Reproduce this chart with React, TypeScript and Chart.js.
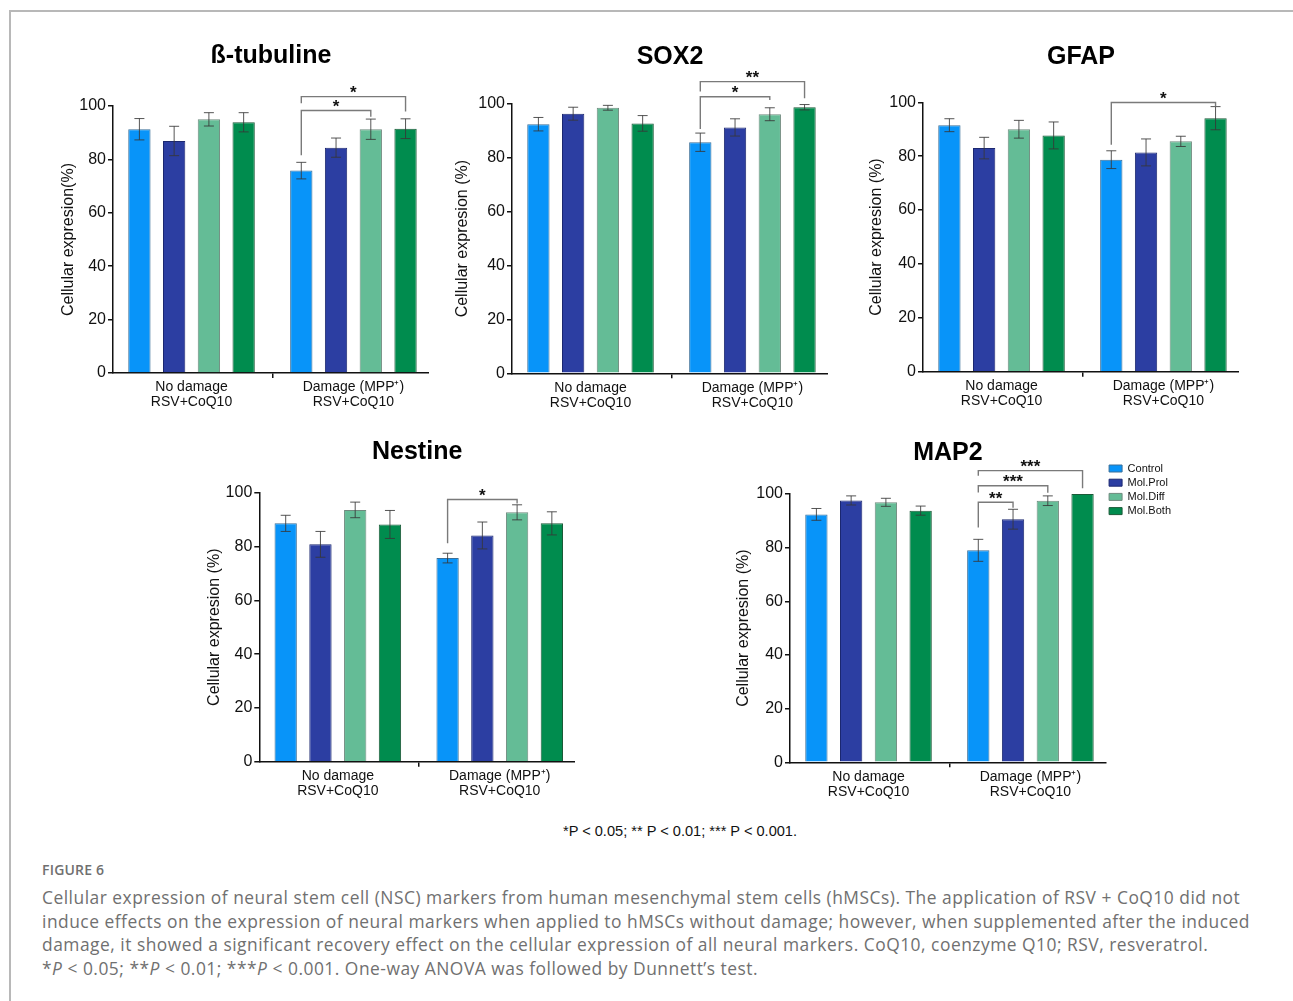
import React, { useEffect, useRef } from 'react';
import { Chart, registerables } from 'chart.js';

Chart.register(...registerables);

const FONT = "'Liberation Sans', Arial, Helvetica, sans-serif";
Chart.defaults.font.family = FONT;

// ---------- data ----------
const seriesNames = ['Control', 'Mol.Prol', 'Mol.Diff', 'Mol.Both'];
const groupLabels = [['No damage', 'RSV+CoQ10'], ['Damage (MPP\u207A)', 'RSV+CoQ10']];

// [series][group]
const tubulineMeans = [[91.3, 75.8], [86.9, 84.4], [95.0, 91.3], [93.9, 91.5]];
const tubulineErrors = [[4.0, 3.1], [5.5, 3.6], [2.5, 3.8], [3.6, 3.7]];
const tubulineBrackets = [
  { to: 2, line: 98.3, leftLeg: 81.6, rightLeg: 96.0, label: '*' },
  { to: 3, line: 103.5, leftLeg: 101.0, rightLeg: 97.9, label: '*' },
];

const sox2Means = [[92.5, 85.8], [96.4, 91.3], [98.6, 96.2], [92.8, 98.8]];
const sox2Errors = [[2.5, 3.4], [2.4, 3.2], [0.9, 2.4], [2.9, 1.0]];
const sox2Brackets = [
  { to: 2, line: 102.7, leftLeg: 90.7, rightLeg: 101.5, label: '*' },
  { to: 3, line: 108.3, leftLeg: 104.6, rightLeg: 102.1, label: '**' },
];

const gfapMeans = [[91.5, 78.7], [83.0, 81.4], [90.0, 85.5], [87.7, 94.1]];
const gfapErrors = [[2.4, 3.3], [4.0, 5.0], [3.3, 1.9], [5.0, 4.3]];
const gfapBrackets = [{ to: 3, line: 99.9, leftLeg: 84.2, rightLeg: 98.4, label: '*' }];

const nestineMeans = [[88.6, 75.7], [80.8, 84.1], [93.6, 92.7], [88.2, 88.6]];
const nestineErrors = [[3.0, 1.8], [4.8, 5.0], [2.9, 2.8], [5.2, 4.3]];
const nestineBrackets = [{ to: 2, line: 97.5, leftLeg: 81.2, rightLeg: 96.0, label: '*' }];

const map2Means = [[92.4, 79.0], [97.6, 90.6], [96.9, 97.5], [93.8, 100.0]];
const map2Errors = [[2.2, 4.1], [1.7, 3.7], [1.5, 1.8], [1.7, 0]];
const map2Brackets = [
  { to: 1, line: 96.9, leftLeg: 87.5, rightLeg: 94.9, label: '**' },
  { to: 2, line: 103.1, leftLeg: 100.6, rightLeg: 100.5, label: '***' },
  { to: 3, line: 108.7, leftLeg: 106.8, rightLeg: 102.1, label: '***' },
];

// ---------- styles ----------
const barColors = ['#0894F9', '#2C3EA2', '#64BC96', '#008C4E'];
const barBorders = ['#3a6f98', '#1c2870', '#6f8a7e', '#1b5a38'];
const INK = '#111111';

const X_MIN = -0.485;
const CAT_PX = 161.9;
const PLOT_W = 315.7;
const YW = 60;

const panels = [
  { title: '\u00DF-tubuline', yTitle: 'Cellular expresion(%)', means: tubulineMeans, errors: tubulineErrors, brackets: tubulineBrackets,
    plotLeft: 113, plotTop: 106, plotBottom: 373, titleY: 55.5, yTitleX: 68.3, legend: false },
  { title: 'SOX2', yTitle: 'Cellular expresion (%)', means: sox2Means, errors: sox2Errors, brackets: sox2Brackets,
    plotLeft: 512, plotTop: 104, plotBottom: 373.3, titleY: 56.5, yTitleX: 462.7, legend: false },
  { title: 'GFAP', yTitle: 'Cellular expresion (%)', means: gfapMeans, errors: gfapErrors, brackets: gfapBrackets,
    plotLeft: 923, plotTop: 102.3, plotBottom: 371.7, titleY: 57, yTitleX: 876.3, legend: false },
  { title: 'Nestine', yTitle: 'Cellular expresion (%)', means: nestineMeans, errors: nestineErrors, brackets: nestineBrackets,
    plotLeft: 259.3, plotTop: 492.7, plotBottom: 761.7, titleY: 452, yTitleX: 214.8, legend: false },
  { title: 'MAP2', yTitle: 'Cellular expresion (%)', means: map2Means, errors: map2Errors, brackets: map2Brackets,
    plotLeft: 790, plotTop: 494, plotBottom: 762.3, titleY: 452.5, yTitleX: 744, legend: true },
];

const LEG_FONT = 11;
const LEG_BOX_W = 13;
const LEG_PAD = 3.2;

function legendWidth() {
  const c = document.createElement('canvas').getContext('2d')!;
  c.font = `${LEG_FONT}px ${FONT}`;
  let w = 0;
  for (const s of seriesNames) w = Math.max(w, c.measureText(s).width);
  return LEG_PAD + LEG_BOX_W + LEG_FONT / 2 + w + 10;
}

function geometry(p: any) {
  const left = Math.round(p.plotLeft - YW);
  const yw = p.plotLeft - left;
  const top = Math.round(p.titleY - 15);
  const padB = p.plotTop - top - 30;
  const h = Math.round(p.plotBottom + 37 - top);
  const xAxisH = h - (p.plotBottom - top);
  const legW = p.legend ? legendWidth() : 0;
  const w = Math.round(yw + PLOT_W + legW);
  const plotW = w - yw - legW;
  const xMax = X_MIN + plotW / CAT_PX;
  const legendTitlePad = p.legend ? (p.plotTop - 31 - top) - 12 - LEG_PAD : 0;
  return { left, top, w, h, yw, padB, xAxisH, xMax, yTitlePad: p.yTitleX - left - 9.6, legendTitlePad };
}

function Panel({ p }: { p: any }) {
  const ref = useRef<HTMLCanvasElement>(null);
  const g = geometry(p);

  useEffect(() => {
    const errorBars = {
      id: 'errorBars',
      afterDatasetsDraw(chart: any) {
        const { ctx } = chart;
        const y = chart.scales.y;
        ctx.save();
        ctx.strokeStyle = 'rgba(55,55,55,0.85)';
        ctx.lineWidth = 1;
        chart.data.datasets.forEach((ds: any, i: number) => {
          const meta = chart.getDatasetMeta(i);
          meta.data.forEach((bar: any, j: number) => {
            const e = p.errors[i][j];
            if (!e) return;
            const v = ds.data[j].y;
            const t = y.getPixelForValue(v + e);
            const b = y.getPixelForValue(v - e);
            const x = bar.x;
            ctx.beginPath();
            ctx.moveTo(x, t); ctx.lineTo(x, b);
            ctx.moveTo(x - 5, t); ctx.lineTo(x + 5, t);
            ctx.moveTo(x - 5, b); ctx.lineTo(x + 5, b);
            ctx.stroke();
          });
        });
        ctx.restore();
      },
    };
    const brackets = {
      id: 'brackets',
      afterDraw(chart: any) {
        const { ctx } = chart;
        const y = chart.scales.y;
        ctx.save();
        ctx.strokeStyle = '#7a7a7a';
        ctx.lineWidth = 1.4;
        ctx.fillStyle = INK;
        ctx.font = `bold 17px ${FONT}`;
        ctx.textAlign = 'center';
        ctx.textBaseline = 'alphabetic';
        for (const br of p.brackets) {
          const x1 = chart.getDatasetMeta(0).data[1].x;
          const x2 = chart.getDatasetMeta(br.to).data[1].x;
          const yl = y.getPixelForValue(br.line);
          const yL = y.getPixelForValue(br.leftLeg);
          const yR = y.getPixelForValue(br.rightLeg);
          ctx.beginPath();
          ctx.moveTo(x1, yL); ctx.lineTo(x1, yl); ctx.lineTo(x2, yl); ctx.lineTo(x2, yR);
          ctx.stroke();
          ctx.fillText(br.label, (x1 + x2) / 2, yl + 1.5);
        }
        ctx.restore();
      },
    };

    const chart = new Chart(ref.current!, {
      type: 'bar',
      data: {
        datasets: seriesNames.map((name, s) => ({
          label: name,
          data: p.means[s].map((v: number, gi: number) => ({ x: gi, y: v })),
          backgroundColor: barColors[s],
          borderColor: barBorders[s],
          borderWidth: 1,
          borderSkipped: 'start',
          categoryPercentage: 0.8586,
          barPercentage: 0.642,
        })),
      },
      options: {
        responsive: false,
        animation: false,
        events: [],
        layout: { padding: 0 },
        plugins: {
          title: {
            display: true,
            text: p.title,
            fullSize: false,
            color: '#000',
            font: { family: FONT, size: 25, weight: 'bold', lineHeight: 1.2 },
            padding: { top: 0, bottom: g.padB },
          },
          legend: p.legend
            ? {
                display: true,
                position: 'right',
                align: 'start',
                fullSize: true,
                title: { display: true, text: '', font: { size: 10, lineHeight: 1.2 }, padding: { top: g.legendTitlePad, bottom: 0 } },
                labels: { boxWidth: LEG_BOX_W, boxHeight: 7, padding: LEG_PAD, color: INK, font: { family: FONT, size: LEG_FONT } },
              }
            : { display: false },
          tooltip: { enabled: false },
        },
        scales: {
          x: {
            type: 'linear',
            min: X_MIN,
            max: g.xMax,
            offset: false,
            grid: { display: true, drawOnChartArea: false, drawTicks: true, tickLength: 5, color: INK, lineWidth: 1.5 },
            border: { display: true, color: INK, width: 1.5 },
            ticks: {
              stepSize: 1,
              includeBounds: false,
              autoSkip: false,
              maxRotation: 0,
              minRotation: 0,
              padding: 2,
              color: INK,
              font: { family: FONT, size: 14, lineHeight: 1.07 },
              callback: (v: any) => (Number.isInteger(v) && groupLabels[v] ? groupLabels[v] : null),
            },
            afterFit: (s: any) => { s.height = g.xAxisH; },
          },
          y: {
            min: 0,
            max: 100,
            grid: { display: true, drawOnChartArea: false, drawTicks: true, tickLength: 5, color: INK, lineWidth: 1.5 },
            border: { display: true, color: INK, width: 1.5 },
            ticks: { stepSize: 20, padding: 2, color: INK, font: { family: FONT, size: 16 } },
            title: {
              display: true,
              text: p.yTitle,
              color: INK,
              font: { family: FONT, size: 16, lineHeight: 1.2 },
              padding: { top: g.yTitlePad, bottom: 0 },
            },
            afterFit: (s: any) => { s.width = g.yw; },
          },
        },
      } as any,
      plugins: [errorBars, brackets],
    });
    return () => chart.destroy();
  }, []);

  return (
    <canvas
      ref={ref}
      width={g.w}
      height={g.h}
      style={{ position: 'absolute', left: g.left, top: g.top, width: g.w, height: g.h }}
    />
  );
}

const captionLines = [
  'Cellular expression of neural stem cell (NSC) markers from human mesenchymal stem cells (hMSCs). The application of RSV + CoQ10 did not',
  'induce effects on the expression of neural markers when applied to hMSCs without damage; however, when supplemented after the induced',
  'damage, it showed a significant recovery effect on the cellular expression of all neural markers. CoQ10, coenzyme Q10; RSV, resveratrol.',
];

export default function App() {
  const capStyle: React.CSSProperties = {
    position: 'absolute',
    left: 42,
    whiteSpace: 'nowrap',
    fontFamily: "'Open Sans', 'Noto Sans', sans-serif",
    fontSize: 17.4,
    letterSpacing: 0.5,
    lineHeight: '20px',
    color: '#707070',
  };
  return (
    <div style={{ position: 'absolute', left: 0, top: 0, width: 1293, height: 1001, overflow: 'hidden', background: '#fff' }}>
      <div style={{ position: 'absolute', left: 9, top: 10, width: 1290, height: 1000, borderTop: '2px solid #b8b8b8', borderLeft: '2px solid #b8b8b8', boxSizing: 'border-box' }} />
      {panels.map((p, i) => (
        <Panel key={i} p={p} />
      ))}
      <div style={{ position: 'absolute', left: 430, width: 500, top: 822, textAlign: 'center', fontFamily: FONT, fontSize: 14.6, lineHeight: '18px', color: INK, whiteSpace: 'nowrap' }}>
        *P &lt; 0.05; ** P &lt; 0.01; *** P &lt; 0.001.
      </div>
      <div style={{ position: 'absolute', left: 42, top: 860, fontFamily: "'Open Sans', sans-serif", fontWeight: 600, fontSize: 14, lineHeight: '20px', color: '#707070', letterSpacing: 0.2 }}>
        FIGURE 6
      </div>
      {captionLines.map((t, i) => (
        <div key={i} style={{ ...capStyle, top: 887 + i * 23.7 }}>{t}</div>
      ))}
      <div style={{ ...capStyle, top: 887 + 3 * 23.7 }}>
        *<i>P</i> &lt; 0.05; **<i>P</i> &lt; 0.01; ***<i>P</i> &lt; 0.001. One-way ANOVA was followed by Dunnett’s test.
      </div>
    </div>
  );
}
